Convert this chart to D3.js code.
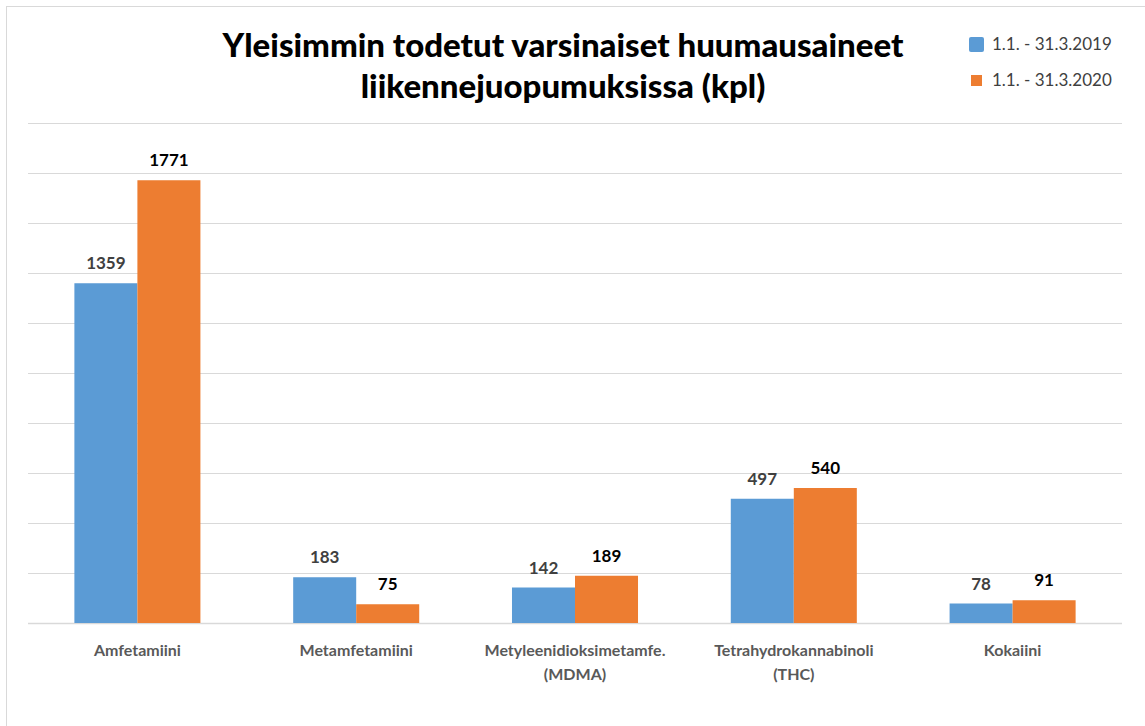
<!DOCTYPE html>
<html>
<head>
<meta charset="utf-8">
<script src="https://cdn.jsdelivr.net/npm/d3@7"></script>
<style>
    body { margin: 0; background: #fff; }
    svg { display: block; font-family: Lato, "Open Sans", sans-serif; }
</style>
</head>
<body>
<svg id="chart" width="1145" height="726"></svg>
<script>
// data
var categories = [
    ['Amfetamiini'],
    ['Metamfetamiini'],
    ['Metyleenidioksimetamfe.', '(MDMA)'],
    ['Tetrahydrokannabinoli', '(THC)'],
    ['Kokaiini']
];
var seriesNames = ['1.1. - 31.3.2019', '1.1. - 31.3.2020'];
var values2019 = [1359, 183, 142, 497, 78];
var values2020 = [1771, 75, 189, 540, 91];
var yTicks = [0, 200, 400, 600, 800, 1000, 1200, 1400, 1600, 1800, 2000];

var colors = ['#5B9BD5', '#ED7D31'];
var svg = d3.select('#chart');

// chart frame
svg.append('rect')
    .attr('x', 6.5).attr('y', 6.5)
    .attr('width', 1150).attr('height', 740)
    .attr('fill', 'none')
    .attr('stroke', '#d9d9d9');

var plot = { left: 28, right: 1122, top: 123, bottom: 623 };

var x0 = d3.scaleBand()
    .domain(d3.range(categories.length))
    .range([plot.left, plot.right])
    .paddingInner(0.424)
    .paddingOuter(0.212);

var x1 = d3.scaleBand()
    .domain([0, 1])
    .range([0, x0.bandwidth()]);

var y = d3.scaleLinear()
    .domain([0, 2000])
    .range([plot.bottom, plot.top]);

// gridlines
svg.append('g')
    .selectAll('line')
    .data(yTicks)
    .enter().append('line')
    .attr('x1', plot.left)
    .attr('x2', plot.right)
    .attr('y1', function (d) { return Math.round(y(d)) + 0.5; })
    .attr('y2', function (d) { return Math.round(y(d)) + 0.5; })
    .attr('stroke', '#d9d9d9')
    .attr('stroke-width', function (d) { return d === 0 ? 1.5 : 1; });

var groups = svg.append('g')
    .selectAll('g')
    .data(categories.map(function (c, i) {
        return { i: i, vals: [values2019[i], values2020[i]] };
    }))
    .enter().append('g')
    .attr('transform', function (d) { return 'translate(' + x0(d.i) + ',0)'; });

groups.selectAll('rect')
    .data(function (d) { return d.vals; })
    .enter().append('rect')
    .attr('x', function (d, i) { return x1(i); })
    .attr('y', function (d) { return y(d); })
    .attr('width', x1.bandwidth())
    .attr('height', function (d) { return y(0) - y(d); })
    .attr('fill', function (d, i) { return colors[i]; });

groups.selectAll('text.value')
    .data(function (d) { return d.vals; })
    .enter().append('text')
    .classed('value', true)
    .attr('x', function (d, i) { return x1(i) + x1.bandwidth() / 2; })
    .attr('y', function (d) { return y(d) - 14; })
    .attr('text-anchor', 'middle')
    .attr('font-size', 17)
    .attr('font-weight', 'bold')
    .attr('fill', function (d, i) { return i === 0 ? '#404040' : '#000'; })
    .text(function (d) { return d; });

// category labels
var catLabels = svg.append('g')
    .selectAll('text')
    .data(categories)
    .enter().append('text')
    .attr('x', function (d, i) { return x0(i) + x0.bandwidth() / 2; })
    .attr('y', 656)
    .attr('text-anchor', 'middle')
    .attr('font-size', 16)
    .attr('font-weight', 'bold')
    .attr('fill', '#595959');

catLabels.selectAll('tspan')
    .data(function (d) { return d; })
    .enter().append('tspan')
    .attr('x', function () { return d3.select(this.parentNode).attr('x'); })
    .attr('dy', function (d, i) { return i === 0 ? 0 : 24; })
    .text(function (d) { return d; });

// title
var title = svg.append('text')
    .attr('x', 563)
    .attr('text-anchor', 'middle')
    .attr('font-size', 33)
    .attr('font-weight', 900)
    .attr('fill', '#000');
title.append('tspan').attr('x', 563).attr('y', 57)
    .text('Yleisimmin todetut varsinaiset huumausaineet');
title.append('tspan').attr('x', 563).attr('y', 98)
    .text('liikennejuopumuksissa (kpl)');

// legend
var legend = svg.append('g')
    .selectAll('g')
    .data(seriesNames)
    .enter().append('g');

legend.append('rect')
    .attr('x', function (d, i) { return i === 0 ? 969 : 971; })
    .attr('y', function (d, i) { return i === 0 ? 37 : 75; })
    .attr('width', function (d, i) { return i === 0 ? 15 : 11; })
    .attr('height', function (d, i) { return i === 0 ? 15 : 11; })
    .attr('rx', function (d, i) { return i === 0 ? 2 : 0; })
    .attr('fill', function (d, i) { return colors[i]; });

legend.append('text')
    .attr('x', 992)
    .attr('y', function (d, i) { return i === 0 ? 50 : 86; })
    .attr('font-size', 17)
    .attr('fill', '#404040')
    .text(function (d) { return d; });
</script>
</body>
</html>
